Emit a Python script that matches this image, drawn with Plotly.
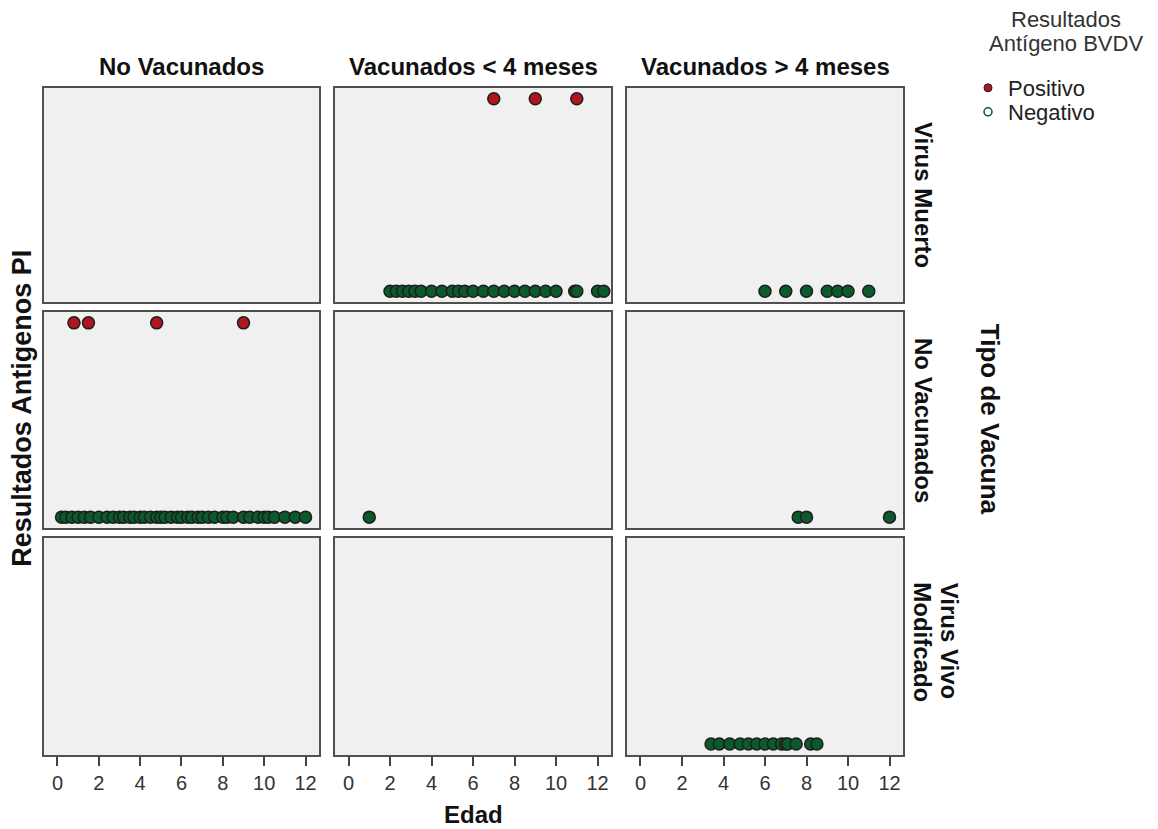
import plotly.graph_objects as go

# ---- data (Edad, by Tipo de Vacuna row x vaccination-time column) ----
col_titles = ["No Vacunados", "Vacunados < 4 meses", "Vacunados > 4 meses"]
row_titles = ["Virus Muerto", "No Vacunados", ["Virus Vivo", "Modifcado"]]
x_ticks = [0, 2, 4, 6, 8, 10, 12]
result_levels = {"Negativo": 0, "Positivo": 1}

# Row: Virus Muerto
vm_lt4_pos = [7.0, 9.0, 11.0]
vm_lt4_neg = [2.0, 2.3, 2.6, 2.9, 3.2, 3.5, 4.0, 4.5, 5.0, 5.3, 5.6, 6.0, 6.5,
              7.0, 7.5, 8.0, 8.5, 9.0, 9.5, 10.0, 10.9, 11.0, 12.0, 12.3]
vm_gt4_neg = [6.0, 7.0, 8.0, 9.0, 9.5, 10.0, 11.0]
# Row: No Vacunados
nv_nv_pos = [0.8, 1.5, 4.8, 9.0]
nv_nv_neg = [0.2, 0.4, 0.7, 1.0, 1.3, 1.6, 2.0, 2.4, 2.7, 3.0, 3.2, 3.5, 3.7,
             4.0, 4.2, 4.5, 4.8, 5.0, 5.2, 5.5, 5.8, 6.0, 6.3, 6.5, 6.8, 7.0,
             7.3, 7.6, 8.0, 8.2, 8.5, 9.0, 9.3, 9.7, 10.0, 10.2, 10.5, 11.0,
             11.5, 12.0]
nv_lt4_neg = [1.0]
nv_gt4_neg = [7.6, 8.0, 12.0]
# Row: Virus Vivo Modificado
vvm_gt4_neg = [3.4, 3.8, 4.3, 4.8, 5.2, 5.6, 6.0, 6.4, 6.8, 7.0, 7.1, 7.5,
               8.2, 8.5]

panels = {
    (0, 1): (vm_lt4_pos, vm_lt4_neg),
    (0, 2): ([], vm_gt4_neg),
    (1, 0): (nv_nv_pos, nv_nv_neg),
    (1, 1): ([], nv_lt4_neg),
    (1, 2): ([], nv_gt4_neg),
    (2, 2): ([], vvm_gt4_neg),
}

# ---- styling ----
RED = "#b0161e"
GREEN = "#0b5a2c"
EDGE = "#1e1e1e"
BG = "#f0f0f0"
FONT = "Liberation Sans, Arial, sans-serif"
FIG_W, FIG_H = 1150, 821   # page has an 8px body margin
OFF = 8
ML, MT, PW, PH = 36, 80, 859, 667

col_dom = [[0.0, 0.3201], [0.3388, 0.6601], [0.6787, 1.0]]
row_dom = [[0.6792, 1.0], [0.3403, 0.6642], [0.0, 0.3253]]

fig = go.Figure()
layout = {}
for r in range(3):
    for c in range(3):
        idx = r * 3 + c + 1
        xa = "xaxis" if idx == 1 else f"xaxis{idx}"
        ya = "yaxis" if idx == 1 else f"yaxis{idx}"
        xref = "x" if idx == 1 else f"x{idx}"
        yref = "y" if idx == 1 else f"y{idx}"
        bottom = (r == 2)
        layout[xa] = dict(domain=col_dom[c], anchor=yref, range=[-0.65, 12.65],
                          showgrid=False, zeroline=False, showline=True,
                          mirror=True, linecolor="#505050", linewidth=2,
                          tickvals=x_ticks if bottom else [],
                          showticklabels=bottom,
                          ticks="outside" if bottom else "",
                          ticklen=9, tickwidth=2, tickcolor="#444",
                          tickfont=dict(family=FONT, size=20, color="#333"),
                          fixedrange=True)
        layout[ya] = dict(domain=row_dom[r], anchor=xref, range=[-0.056, 1.056],
                          showgrid=False, zeroline=False, showline=True,
                          mirror=True, linecolor="#505050", linewidth=2,
                          showticklabels=False, ticks="", fixedrange=True)
        pos, neg = panels.get((r, c), ([], []))
        # placeholder so that every facet is drawn
        fig.add_trace(go.Scatter(x=[], y=[], xaxis=xref, yaxis=yref,
                                 mode="markers", showlegend=False,
                                 hoverinfo="skip"))
        if neg:
            fig.add_trace(go.Scatter(
                x=neg, y=[result_levels["Negativo"]] * len(neg),
                xaxis=xref, yaxis=yref, mode="markers", showlegend=False,
                marker=dict(size=12, color=GREEN,
                            line=dict(color=EDGE, width=1.5))))
        if pos:
            fig.add_trace(go.Scatter(
                x=pos, y=[result_levels["Positivo"]] * len(pos),
                xaxis=xref, yaxis=yref, mode="markers", showlegend=False,
                marker=dict(size=12, color=RED,
                            line=dict(color=EDGE, width=1.5))))

# legend-only entries (one legend each, to control spacing)
fig.add_trace(go.Scatter(x=[None], y=[None], mode="markers", name="Positivo",
                         legend="legend",
                         marker=dict(size=8, color=RED,
                                     line=dict(color=EDGE, width=1))))
fig.add_trace(go.Scatter(x=[None], y=[None], mode="markers", name="Negativo",
                         legend="legend2",
                         marker=dict(size=8, color=GREEN, symbol="circle-open",
                                     line=dict(width=1.5))))

annotations = []
for c, t in enumerate(col_titles):
    annotations.append(dict(text=f"<b>{t}</b>", xref="paper", yref="paper",
                            x=sum(col_dom[c]) / 2, xanchor="center",
                            y=1.0, yanchor="middle",
                            yshift=22, showarrow=False,
                            font=dict(family=FONT, size=24, color="#111")))
for r, t in enumerate(row_titles):
    if isinstance(t, list):
        for k, line in enumerate(t):
            annotations.append(dict(text=f"<b>{line}</b>", xref="paper",
                                    yref="paper", x=1.0, xanchor="center",
                                    xshift=46 - 26 * k, y=0.262,
                                    yanchor="top", textangle=90,
                                    showarrow=False,
                                    font=dict(family=FONT, size=24,
                                              color="#111")))
    else:
        annotations.append(dict(text=f"<b>{t}</b>", xref="paper", yref="paper",
                                x=1.0, xanchor="center", xshift=20,
                                y=sum(row_dom[r]) / 2, yanchor="middle",
                                textangle=90, showarrow=False,
                                font=dict(family=FONT, size=24, color="#111")))
annotations.append(dict(text="<b>Tipo de Vacuna</b>", xref="paper", yref="paper",
                        x=1.0, xanchor="center", xshift=87, y=0.504,
                        yanchor="middle", textangle=90, showarrow=False,
                        font=dict(family=FONT, size=26, color="#111")))
annotations.append(dict(text="<b>Resultados Antigenos PI</b>", xref="paper",
                        yref="paper", x=0.0, xanchor="center", xshift=-22,
                        y=0.519, yanchor="middle", textangle=-90,
                        showarrow=False,
                        font=dict(family=FONT, size=27, color="#111")))
annotations.append(dict(text="<b>Edad</b>", xref="paper", yref="paper",
                        x=0.5, xanchor="center", y=0.0, yanchor="middle",
                        yshift=-59, showarrow=False,
                        font=dict(family=FONT, size=24, color="#111")))
for k, line in enumerate(["Resultados", "Antígeno BVDV"]):
    fig_x = 1066 - OFF
    fig_y = 19 + 24 * k - OFF
    annotations.append(dict(text=line, xref="paper", yref="paper",
                            x=(fig_x - ML) / PW, xanchor="center",
                            y=1 + (MT - fig_y) / PH,
                            yanchor="middle", showarrow=False,
                            font=dict(family=FONT, size=22, color="#333")))

leg_common = dict(xref="container", yref="container",
                  x=(968 - OFF) / FIG_W, xanchor="left", yanchor="top",
                  bgcolor="rgba(0,0,0,0)",
                  font=dict(family=FONT, size=22, color="#222"),
                  itemwidth=30)

fig.update_layout(
    **layout,
    width=FIG_W, height=FIG_H,
    margin=dict(l=ML, r=FIG_W - ML - PW, t=MT, b=FIG_H - MT - PH),
    paper_bgcolor="white", plot_bgcolor=BG,
    annotations=annotations,
    showlegend=True,
    legend=dict(**leg_common, y=1 - (67 - OFF) / FIG_H),
    legend2=dict(**leg_common, y=1 - (91 - OFF) / FIG_H),
)

fig.write_html("out.html")
